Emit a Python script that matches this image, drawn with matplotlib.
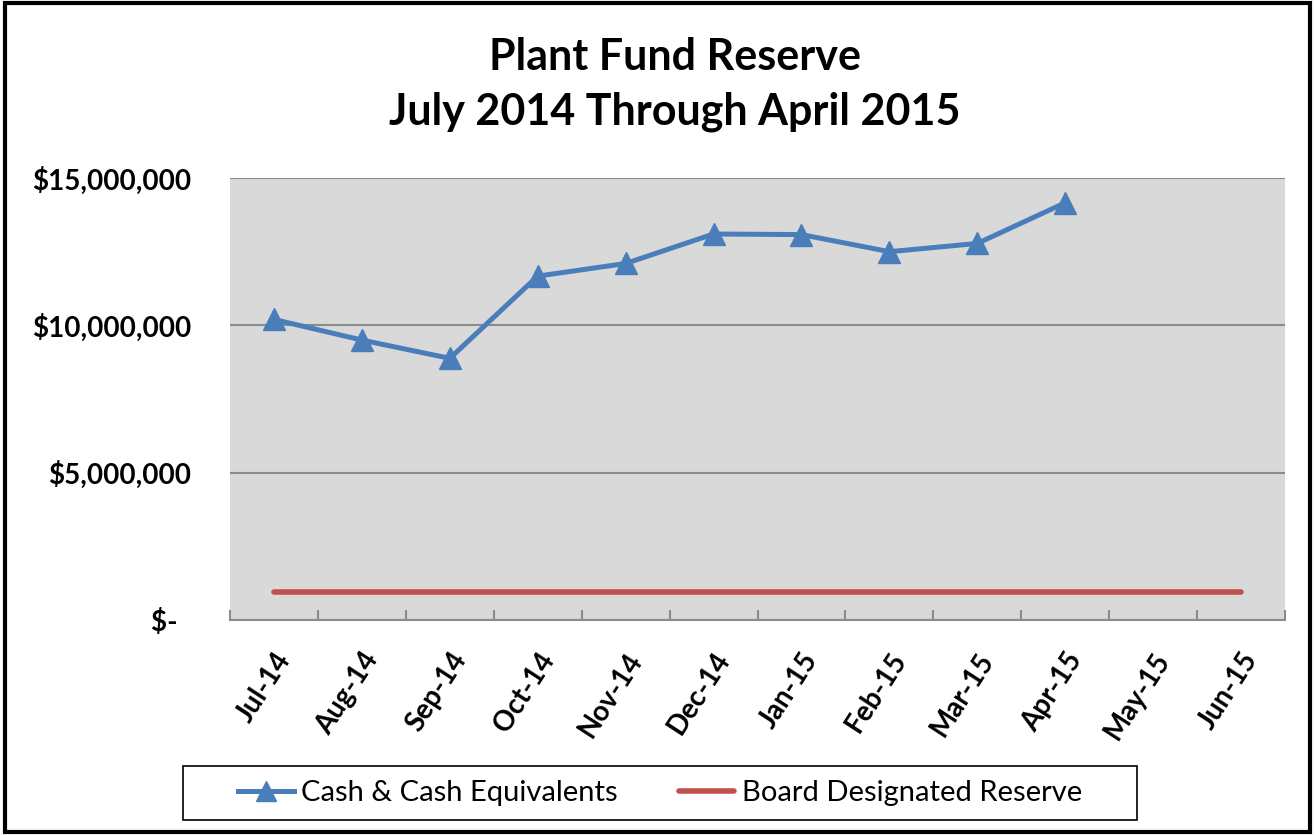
import numpy as np
import matplotlib.pyplot as plt
from matplotlib.patches import Rectangle
from matplotlib.ticker import FuncFormatter, FixedLocator

months = ['Jul-14', 'Aug-14', 'Sep-14', 'Oct-14', 'Nov-14', 'Dec-14',
          'Jan-15', 'Feb-15', 'Mar-15', 'Apr-15', 'May-15', 'Jun-15']
cash = [10200000, 9500000, 8880000, 11670000, 12100000, 13100000,
        13080000, 12500000, 12780000, 14160000]
reserve = [950000] * 12

plt.rcParams['font.family'] = ['Lato', 'DejaVu Sans']

fig = plt.figure(figsize=(13.15, 8.35), dpi=100)
ax = fig.add_axes([0.1749, 0.2575, 0.8023, 0.5293])
ax.set_facecolor('#D9D9D9')

x = np.arange(len(months))
ax.plot(x[:len(cash)], cash, color='#4A7EBB', lw=3.6, marker='^', ms=16,
        label='Cash & Cash Equivalents')
ax.plot(x, reserve, color='#C0504D', lw=4, solid_capstyle='round',
        label='Board Designated Reserve')

ax.set_xlim(-0.5, len(months) - 0.5)
ax.set_ylim(0, 15000000)
ax.set_yticks([0, 5000000, 10000000, 15000000])
ax.yaxis.set_major_formatter(FuncFormatter(
    lambda v, p: '$-  ' if v == 0 else '${:,.0f}'.format(v)))
ax.grid(axis='y', color='#8C8C8C', lw=1.5)
ax.set_axisbelow(True)
for s in ['left', 'right', 'top']:
    ax.spines[s].set_visible(False)
ax.spines['bottom'].set_color('#8C8C8C')
ax.spines['bottom'].set_linewidth(1.5)

ax.set_xticks(x)
ax.set_xticklabels(months, rotation=57, ha='right', rotation_mode='anchor',
                   fontsize=20, fontweight='bold')
ax.xaxis.set_minor_locator(FixedLocator(np.arange(-0.5, len(months), 1)))
ax.tick_params(axis='x', which='major', length=0, pad=20)
ax.tick_params(axis='x', which='minor', direction='in', length=7,
               width=1.5, color='#8C8C8C')
ax.tick_params(axis='y', length=0, pad=28, labelsize=20)
for lab in ax.get_yticklabels():
    lab.set_fontweight('bold')

fig.text(0.513, 0.932, 'Plant Fund Reserve', ha='center', va='center',
         fontsize=31, fontweight='bold')
fig.text(0.513, 0.866, 'July 2014 Through April 2015', ha='center',
         va='center', fontsize=31, fontweight='bold')

# legend without its own frame, box drawn separately (wider side padding)
leg = fig.legend(loc='center', bbox_to_anchor=(0.502, 0.0503), ncol=2,
                 fontsize=21, frameon=False, columnspacing=2.1,
                 handlelength=1.9, handletextpad=0.25)
for h in leg.legend_handles:
    h.set_markersize(15)
fig.patches.append(Rectangle((183 / 1315, 1 - 820 / 835), 954 / 1315,
                             54 / 835, fill=False, edgecolor='black',
                             lw=1.2, transform=fig.transFigure))

fig.patches.append(Rectangle((0.004, 0.004), 0.992, 0.992, fill=False,
                             edgecolor='black', lw=3,
                             transform=fig.transFigure))

fig.savefig('out.png', dpi=100)
